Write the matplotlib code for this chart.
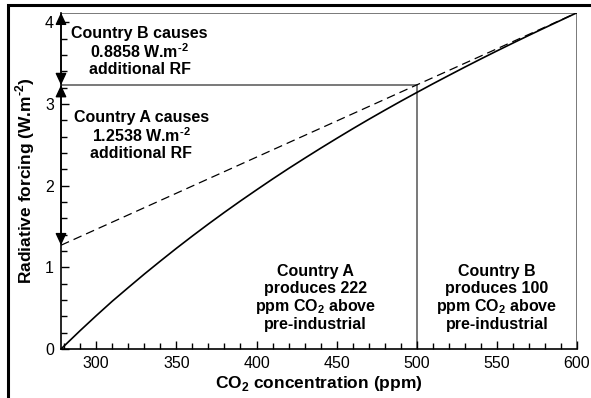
import matplotlib
matplotlib.use("Agg")
import matplotlib.pyplot as plt
from matplotlib.patches import Rectangle
from matplotlib.ticker import MultipleLocator

plt.rcParams['font.family'] = ['Liberation Sans', 'DejaVu Sans']
plt.rcParams['mathtext.fontset'] = 'custom'
plt.rcParams['mathtext.rm'] = 'Liberation Sans'
plt.rcParams['mathtext.bf'] = 'Liberation Sans:bold'

# data
co2 = [278, 290, 300, 310, 320, 330, 340, 350, 360, 370, 380, 390, 400, 410, 420, 430,
       440, 450, 460, 470, 480, 490, 500, 510, 520, 530, 540, 550, 560, 570, 580, 590, 600]
rf = [0.0, 0.226, 0.408, 0.585, 0.752, 0.917, 1.076, 1.232, 1.383, 1.530, 1.673, 1.812,
      1.947, 2.080, 2.209, 2.334, 2.457, 2.577, 2.695, 2.810, 2.922, 3.032, 3.139, 3.245,
      3.348, 3.450, 3.550, 3.648, 3.744, 3.839, 3.932, 4.024, 4.116]
tangent_x = [278, 600]
tangent_y = [1.27, 4.116]
rf_a_level = 3.23
rf_b_level = 4.116
co2_a = 500
co2_b = 600

fig = plt.figure(figsize=(5.91, 3.98), dpi=100)
ax = fig.add_axes([61/591, 1-349/398, 516/591, (349-12.7)/398])

gray = '#6e6e6e'
ax.plot([278, co2_b], [rf_b_level, rf_b_level], color=gray, lw=1.3, zorder=1)
ax.plot([co2_b, co2_b], [0, rf_b_level], color=gray, lw=1.3, zorder=1)
ax.plot([278, co2_a], [rf_a_level, rf_a_level], color=gray, lw=1.3, zorder=1)
ax.plot([co2_a, co2_a], [0, rf_a_level], color=gray, lw=1.3, zorder=1)

ax.plot(tangent_x, tangent_y, color='black', lw=0.9, ls=(0, (7, 4)), zorder=2)
ax.plot(co2, rf, color='black', lw=1.2, zorder=3)

# arrows along left axis
akw = dict(arrowstyle='<|-|>,head_length=0.6,head_width=0.28', color='black', lw=1.0,
           mutation_scale=12, shrinkA=0, shrinkB=0)
ax.annotate('', xy=(278, rf_b_level), xytext=(278, rf_a_level), arrowprops=akw, annotation_clip=False, zorder=5)
ax.annotate('', xy=(278, rf_a_level), xytext=(278, tangent_y[0]), arrowprops=akw, annotation_clip=False, zorder=5)

ax.set_xlim(278, 600)
ax.set_ylim(0, 4.116)
ax.xaxis.set_major_locator(MultipleLocator(50))
ax.xaxis.set_minor_locator(MultipleLocator(10))
ax.yaxis.set_major_locator(MultipleLocator(1))
ax.yaxis.set_minor_locator(MultipleLocator(0.2))
ax.tick_params(which='both', direction='in', labelsize=11.5, width=1)
ax.tick_params(which='major', length=6, pad=5)
ax.tick_params(which='minor', length=4)
for s in ['top', 'right']:
    ax.spines[s].set_visible(False)
for s in ['left', 'bottom']:
    ax.spines[s].set_linewidth(1.2)

sup = '$^{\\mathbf{\u20102}}$'
ax.set_xlabel('CO$_{\\mathbf{2}}$ concentration (ppm)', fontsize=12.5, fontweight='bold', labelpad=2)
ax.set_ylabel('Radiative forcing (W.m' + sup + ')', fontsize=12.5, fontweight='bold', labelpad=6)

tkw = dict(ha='center', va='center', fontsize=11.5, fontweight='bold', linespacing=1.1)
ax.text(327, 3.64, 'Country B causes\n0.8858 W.m' + sup + '\nadditional RF', **tkw)
ax.text(328, 2.61, 'Country A causes\n1.2538 W.m' + sup + '\nadditional RF', **tkw)
ax.text(437, 0.62, 'Country A\nproduces 222\nppm CO$_{\\mathbf{2}}$ above\npre-industrial', **tkw)
ax.text(550, 0.62, 'Country B\nproduces 100\nppm CO$_{\\mathbf{2}}$ above\npre-industrial', **tkw)

# outer frame (cropped)
fig.patches.append(Rectangle((8/591, -0.1), 1.2, 1 - 5/398 + 0.1, transform=fig.transFigure,
                             fill=False, edgecolor='black', lw=2.2))

fig.savefig('out.png', dpi=100)
